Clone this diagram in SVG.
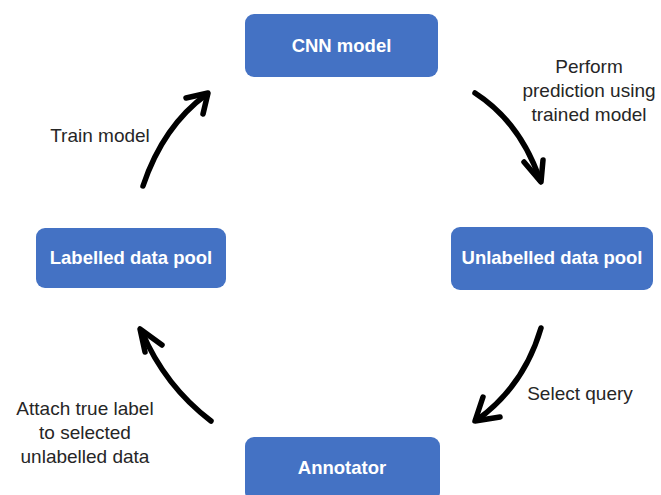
<svg xmlns="http://www.w3.org/2000/svg" width="661" height="495" viewBox="0 0 661 495">
<style>
.box{fill:#4472C4;}
.bt{font-family:"Liberation Sans",Arial,sans-serif;font-weight:bold;font-size:18.5px;fill:#ffffff;text-anchor:middle;}
.lbl{font-family:"Liberation Sans",Arial,sans-serif;font-size:19px;fill:#262626;text-anchor:middle;}
.arr{fill:none;stroke:#000;stroke-width:5.5;stroke-linecap:round;stroke-linejoin:round;}
</style>
<rect width="661" height="495" fill="#ffffff"/>
<g id="cnn">
<rect class="box" x="245" y="14" width="193" height="63" rx="9"/>
<text class="bt" x="341.5" y="52">CNN model</text>
</g>
<g id="labelled">
<rect class="box" x="36" y="228" width="190" height="60" rx="9"/>
<text class="bt" x="131" y="264">Labelled data pool</text>
</g>
<g id="unlabelled">
<rect class="box" x="451" y="227" width="202" height="63" rx="9"/>
<text class="bt" x="552" y="264">Unlabelled data pool</text>
</g>
<g id="annotator">
<rect class="box" x="245" y="437" width="195" height="64" rx="9"/>
<text class="bt" x="342" y="474">Annotator</text>
</g>
<g id="connectors">
<path class="arr" d="M143,186 Q163,126 207,94"/>
<polyline class="arr" points="186,98 208,93 203,114"/>
<path class="arr" d="M475,93 Q520,122 540,180"/>
<polyline class="arr" points="524,162 541,182 543,160"/>
<path class="arr" d="M541,328 Q524,386 477,420"/>
<polyline class="arr" points="483,397 475,421 500,417"/>
<path class="arr" d="M211,421 Q165,386 142,332"/>
<polyline class="arr" points="162,345 140,329 145,352"/>
</g>
<g id="labels">
<text class="lbl" x="589" y="73">Perform</text>
<text class="lbl" x="589" y="97">prediction using</text>
<text class="lbl" x="589" y="121">trained model</text>
<text class="lbl" x="100" y="142">Train model</text>
<text class="lbl" x="580" y="400">Select query</text>
<text class="lbl" x="85" y="415">Attach true label</text>
<text class="lbl" x="85" y="439">to selected</text>
<text class="lbl" x="85" y="463">unlabelled data</text>
</g>
</svg>
